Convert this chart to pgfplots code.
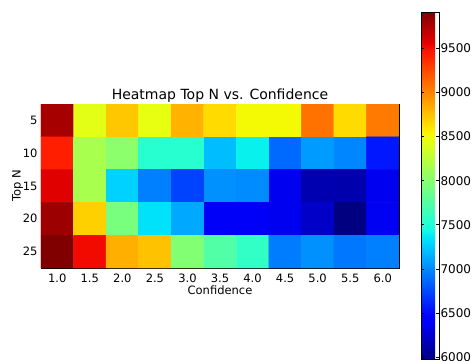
\documentclass[border=0pt]{standalone}
\usepackage{pgfplots}
\pgfplotsset{compat=1.18}
\usepackage{fontspec}
\setmainfont{DejaVu Sans}
\pgfplotsset{colormap={mpljet}{rgb(0pt)=(0,0,0.5); rgb(110pt)=(0,0,1); rgb(125pt)=(0,0,1); rgb(340pt)=(0,0.86,1); rgb(350pt)=(0,0.9,0.968); rgb(375pt)=(0.081,1,0.887); rgb(640pt)=(0.935,1,0.032); rgb(650pt)=(0.968,0.963,0); rgb(660pt)=(1,0.926,0); rgb(890pt)=(1,0.074,0); rgb(910pt)=(0.909,0,0); rgb(1000pt)=(0.5,0,0)}}
\pgfplotstableread{
x y c
1.0 5 9780
1.5 5 8436
2.0 5 8730
2.5 5 8460
3.0 5 8810
3.5 5 8645
4.0 5 8515
4.5 5 8515
5.0 5 9080
5.5 5 8645
6.0 5 9050
1.0 10 9430
1.5 10 8160
2.0 10 8020
2.5 10 7540
3.0 10 7540
3.5 10 7200
4.0 10 7400
4.5 10 6880
5.0 10 7070
5.5 10 6990
6.0 10 6560
1.0 15 9580
1.5 15 8160
2.0 15 7280
2.5 15 6960
3.0 15 6730
3.5 15 7030
4.0 15 7010
4.5 15 6360
5.0 15 6145
5.5 15 6130
6.0 15 6360
1.0 20 9810
1.5 20 8690
2.0 20 7930
2.5 20 7340
3.0 20 7120
3.5 20 6390
4.0 20 6390
4.5 20 6360
5.0 20 6225
5.5 20 5980
6.0 20 6370
1.0 25 9910
1.5 25 9520
2.0 25 8830
2.5 25 8750
3.0 25 7980
3.5 25 7740
4.0 25 7590
4.5 25 6950
5.0 25 7030
5.5 25 6930
6.0 25 6960
}\heat
\begin{document}
\begin{tikzpicture}[x=1pt,y=1pt]
\path[use as bounding box] (0,0) rectangle (472,360);
\begin{axis}[
  at={(41pt,92pt)}, anchor=south west,
  scale only axis, width=358pt, height=164pt,
  xmin=0.75, xmax=6.25, ymin=2.5, ymax=27.5,
  y dir=reverse,
  colormap name=mpljet,
  point meta min=5980, point meta max=9910,
  xtick={1,1.5,...,6}, ytick={5,10,15,20,25},
  xticklabel style={yshift=-2.5pt, /pgf/number format/.cd, fixed, fixed zerofill, precision=1},
  /pgf/number format/assume math mode=true,
  tick label style={font=\fontsize{11.5}{12}\selectfont},
  major tick length=4pt,
  tick style={black, line width=0.6pt},
  axis line style={black, line width=0.8pt},
  xlabel={Confidence}, ylabel={Top N},
  label style={font=\fontsize{11.5}{12}\selectfont},
  xlabel style={yshift=4pt},
  ylabel style={yshift=-7pt},
  title={Heatmap Top N vs. Confidence},
  title style={font=\fontsize{14}{16}\selectfont, yshift=-8pt},
  colorbar,
  colorbar style={
    at={(1.0615,1.561)}, anchor=north west,
    scale only axis, width=18pt, height=347pt,
    ytick={6000,6500,...,9500},
    yticklabel style={font=\fontsize{12}{12}\selectfont, xshift=-2pt, /pgf/number format/.cd, fixed, 1000 sep={}},
    /pgf/number format/assume math mode=true,
    major tick length=3pt,
    axis line style={black, line width=0.8pt},
  },
]
\addplot[matrix plot*, mesh/cols=11, point meta=explicit] table[meta=c] {\heat};
\end{axis}
\end{tikzpicture}
\end{document}
